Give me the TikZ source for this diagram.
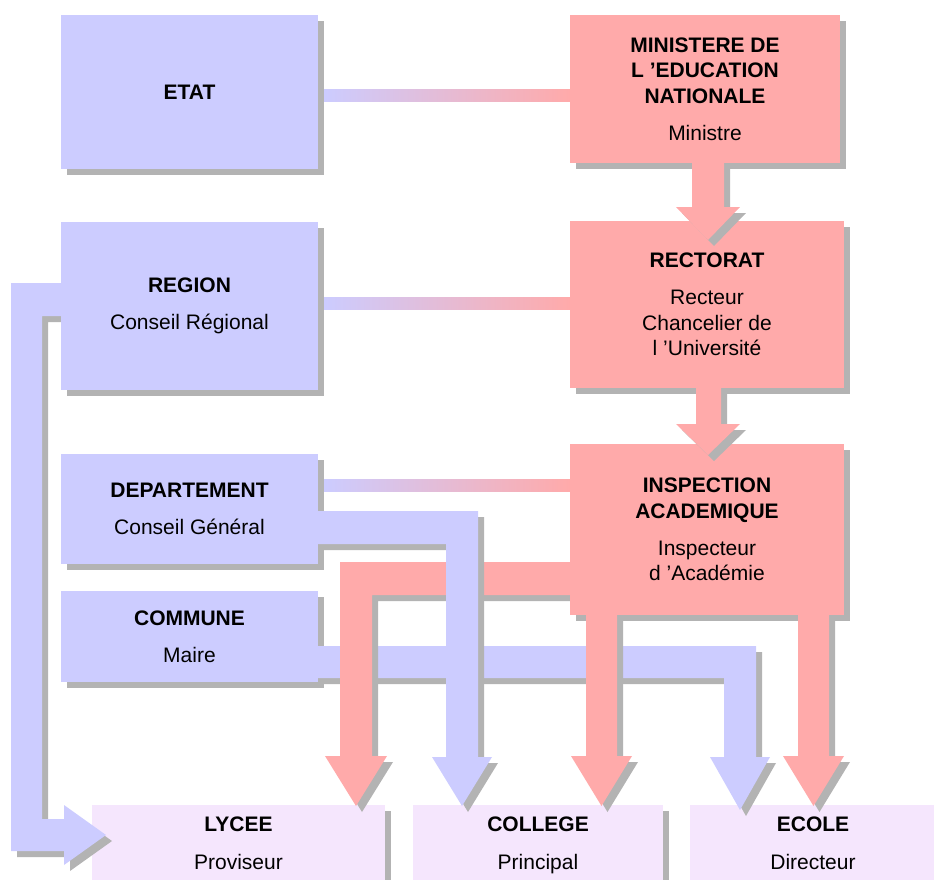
\documentclass[tikz,border=0pt]{standalone}
\usepackage{fontspec}
\setmainfont{Liberation Sans}
\usetikzlibrary{shadows,calc}
\definecolor{bluec}{RGB}{204,204,255}
\definecolor{pinkc}{RGB}{255,170,170}
\definecolor{lavc}{RGB}{245,230,253}
\definecolor{shadowc}{RGB}{179,179,179}
\begin{document}
\begin{tikzpicture}[x=1pt,y=-1pt,
  shad/.style={drop shadow={shadow xshift=6pt,shadow yshift=-6pt,fill=shadowc,opacity=1}},
  box/.style={rectangle,inner sep=0pt,outer sep=0pt,anchor=north west,align=center,shad,
              font=\fontsize{21}{25.5}\selectfont},
  bluebox/.style={box,fill=bluec},
  pinkbox/.style={box,fill=pinkc},
  lowbox/.style={box,fill=lavc},
  bluearrow/.style={fill=bluec,shad},
  pinkarrow/.style={fill=pinkc,shad},
  band/.style={left color=bluec,right color=pinkc}]
\clip (0,0) rectangle (934,880);

% bottom boxes
\node[lowbox,minimum width=293,minimum height=81] (lycee) at (92,805)
  {\textbf{LYCEE}\strut\\[12pt]Proviseur\strut};
\node[lowbox,minimum width=250,minimum height=81] (college) at (413,805)
  {\textbf{COLLEGE}\strut\\[12pt]Principal\strut};
\node[lowbox,minimum width=246,minimum height=81] (ecole) at (690,805)
  {\textbf{ECOLE}\strut\\[12pt]Directeur\strut};

% ETAT
\node[bluebox,minimum width=257,minimum height=154] (etat) at (61,15) {\textbf{ETAT}};

% COMMUNE -> ECOLE
\node[bluebox,minimum width=257,minimum height=91] (commune) at (61,591)
  {\textbf{COMMUNE}\\[11.5pt]Maire};
\fill[bluearrow] (commune.east |- 0,646) -- (756,646) -- (756,757) -- (770,757)
  -- (740,810) -- (710,757) -- (724,757) -- (724,678) -- (commune.east |- 0,678) -- cycle;

% INSPECTION ACADEMIQUE -> LYCEE, COLLEGE, ECOLE
\fill[pinkarrow] (572,562) -- (340,562) -- (340,756) -- (325,756) -- (356,806)
  -- (387,756) -- (372,756) -- (372,595) -- (572,595) -- cycle;
\node[pinkbox,minimum width=274,minimum height=171] (insp) at (570,444)
  {\textbf{INSPECTION}\\\textbf{ACADEMIQUE}\\[11.5pt]Inspecteur\\d 'Académie};
\fill[pinkarrow] (insp.south -| 586,0) -- (586,756) -- (571,756) -- (601.5,806)
  -- (632,756) -- (617,756) -- (insp.south -| 617,0) -- cycle;
\fill[pinkarrow] (insp.south -| 798,0) -- (798,756) -- (783,756) -- (813.5,806)
  -- (844,756) -- (829,756) -- (insp.south -| 829,0) -- cycle;

% DEPARTEMENT -> COLLEGE
\node[bluebox,minimum width=257,minimum height=110] (dep) at (61,454)
  {\textbf{DEPARTEMENT}\\[11.5pt]Conseil Général};
\fill[bluearrow] (dep.east |- 0,511) -- (478,511) -- (478,757) -- (492,757)
  -- (462,806) -- (432,757) -- (446,757) -- (446,544) -- (dep.east |- 0,544) -- cycle;

% REGION -> LYCEE
\fill[bluearrow] (63,283) -- (11,283) -- (11,851) -- (64,851) -- (64,865)
  -- (106,835) -- (64,805) -- (64,819) -- (42,819) -- (42,316) -- (63,316) -- cycle;
\node[bluebox,minimum width=257,minimum height=168] (region) at (61,222)
  {\textbf{REGION}\\[11.5pt]Conseil Régional};

% RECTORAT -> INSPECTION
\node[pinkbox,minimum width=274,minimum height=167] (rect) at (570,221)
  {\textbf{RECTORAT}\\[11.5pt]Recteur\\Chancelier de\\l 'Université};
\fill[pinkarrow] (rect.south -| 696,0) -- (696,424) -- (676,424) -- (708,455)
  -- (740,424) -- (721,424) -- (rect.south -| 721,0) -- cycle;

% MINISTERE -> RECTORAT
\node[pinkbox,minimum width=270,minimum height=148] (mne) at (570,15)
  {\textbf{MINISTERE DE}\\\textbf{L 'EDUCATION}\\\textbf{NATIONALE}\\[11.5pt]Ministre};
\fill[pinkarrow] (mne.south -| 692,0) -- (692,207) -- (676,207) -- (708,240)
  -- (740,207) -- (724,207) -- (mne.south -| 724,0) -- cycle;

% thin links
\path[band] ($(etat.east |- 0,90)+(6,0)$) rectangle (mne.west |- 0,102);
\path[band] ($(region.east |- 0,297)+(6,0)$) rectangle (rect.west |- 0,309);
\path[band] ($(dep.east |- 0,479)+(6,0)$) rectangle (insp.west |- 0,491);
\end{tikzpicture}
\end{document}
